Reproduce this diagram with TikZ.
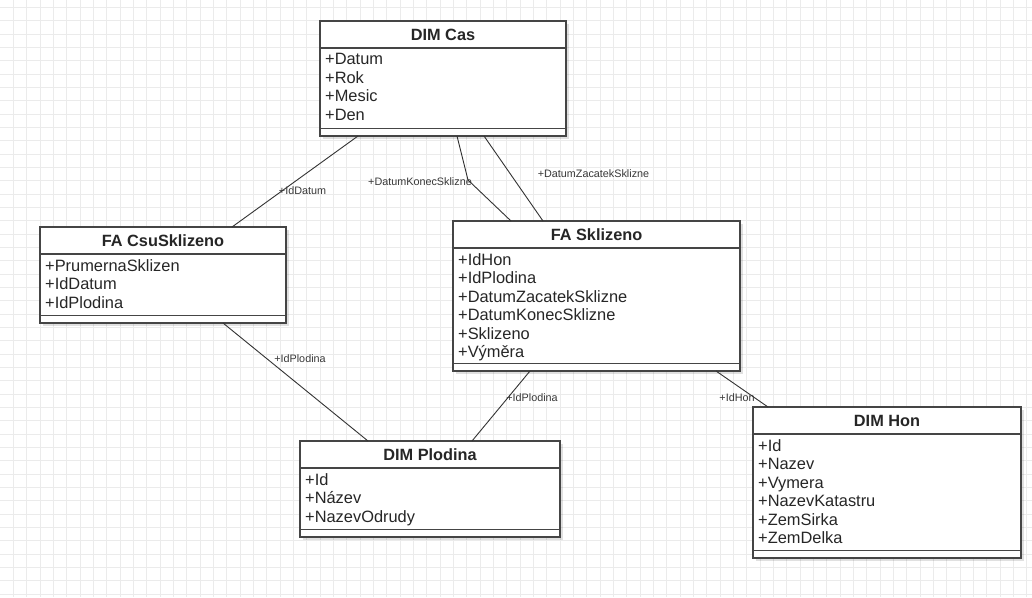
\documentclass[tikz,border=0pt]{standalone}
\usepackage{fontspec}
\setmainfont{Liberation Sans}
\usetikzlibrary{calc,shadows}
\definecolor{gridgray}{HTML}{EBEBEB}
\definecolor{boxline}{HTML}{454545}
\definecolor{textcol}{HTML}{262626}
\definecolor{labelcol}{HTML}{383838}
\tikzset{
  gridline/.style={draw=gridgray, line width=0.75pt},
  classbox/.style={draw=boxline, fill=white, line width=1.4pt, inner sep=0pt, outer sep=0pt,
    drop shadow={fill=black, opacity=0.12, shadow xshift=2.5pt, shadow yshift=-2.5pt}},
  classline/.style={draw=boxline, line width=1.4pt},
  classtitle/.style={font=\bfseries\fontsize{16.3}{19}\selectfont, text=textcol, inner sep=0pt},
  classattr/.style={font=\fontsize{16.4}{18.4}\selectfont, text=textcol, align=left, inner sep=0pt, anchor=north west},
  conn/.style={draw=black!80, line width=0.9pt},
  connlabel/.style={font=\fontsize{10.8}{12}\selectfont, text=labelcol, inner sep=0pt}
}
\newcommand\umlclass[7]{%
  \node[classbox, minimum width=#4pt, minimum height=#5pt, anchor=north west] (#1) at (#2,#3) {};
  \draw[classline] ($(#1.north west)+(0,27)$) -- ($(#1.north east)+(0,27)$);
  \draw[classline] ($(#1.south west)+(0,-7.5)$) -- ($(#1.south east)+(0,-7.5)$);
  \node[classtitle] (#1-title) at ($(#1.north)+(0,13.5)$) {#6};
  \node[classattr] (#1-attrs) at ($(#1.north west)+(5,32.5)$) {#7};
}
\begin{document}
\begin{tikzpicture}[x=1pt, y=-1pt]
\useasboundingbox (0,0) rectangle (1032,597);
\fill[white] (0,0) rectangle (1032,597);
\foreach \i in {1,...,77} \draw[gridline] (\i*13.333,0) -- (\i*13.333,597);
\foreach \j in {0,...,44} \draw[gridline] (0,7.5+\j*13.333) -- (1032,7.5+\j*13.333);

\coordinate (konecbend) at (468,180);

\umlclass{cas}{320}{21}{246}{115}{DIM Cas}{+Datum\\+Rok\\+Mesic\\+Den}
\umlclass{csu}{40}{227}{246}{96}{FA CsuSklizeno}{+PrumernaSklizen\\+IdDatum\\+IdPlodina}
\umlclass{skl}{453}{221}{287}{150}{FA Sklizeno}{+IdHon\\+IdPlodina\\+DatumZacatekSklizne\\+DatumKonecSklizne\\+Sklizeno\\+Výměra}
\umlclass{plod}{300}{441}{260}{96}{DIM Plodina}{+Id\\+Název\\+NazevOdrudy}
\umlclass{hon}{753}{407}{268}{151}{DIM Hon}{+Id\\+Nazev\\+Vymera\\+NazevKatastru\\+ZemSirka\\+ZemDelka}

\draw[conn] ($(cas.south west)+(38,0)$) -- ($(csu.north west)+(192,0)$);
\draw[conn] ($(cas.south west)+(137,0)$) -- (konecbend) -- ($(skl.north west)+(58,0)$);
\draw[conn] ($(cas.south west)+(164,0)$) -- ($(skl.north west)+(90,0)$);
\draw[conn] ($(csu.south west)+(183,0)$) -- ($(plod.north west)+(68,0)$);
\draw[conn] ($(skl.south west)+(77,0)$) -- ($(plod.north west)+(172,0)$);
\draw[conn] ($(skl.south west)+(263,0)$) -- ($(hon.north west)+(15,0)$);

\node[connlabel] (lbl-iddatum) at (302.5,190.5) {+IdDatum};
\node[connlabel] (lbl-konec) at (420,181.5) {+DatumKonecSklizne};
\node[connlabel] (lbl-zacatek) at (593.5,173.3) {+DatumZacatekSklizne};
\node[connlabel] (lbl-plod1) at (300,359) {+IdPlodina};
\node[connlabel] (lbl-plod2) at (532,398) {+IdPlodina};
\node[connlabel] (lbl-hon) at (737,398) {+IdHon};
\end{tikzpicture}
\end{document}
